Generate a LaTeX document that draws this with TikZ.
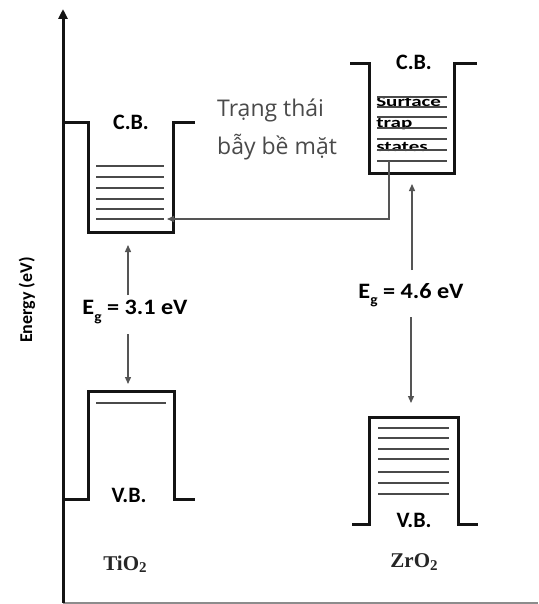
\documentclass[tikz,border=0pt]{standalone}
\usepackage{fontspec}
\setmainfont{Liberation Serif}
\newfontfamily\carlito{Carlito}
\newfontfamily\osans{Open Sans}
\usetikzlibrary{arrows.meta}
\definecolor{viet}{HTML}{4A4A4A}
\definecolor{lvlgray}{HTML}{4A4A4A}
\definecolor{conngray}{HTML}{555555}
\begin{document}
\begin{tikzpicture}[x=1pt,y=-1pt,
  band/.style={line width=3pt, black!92, line join=miter, line cap=butt},
  lvl/.style={line width=1.8pt, lvlgray},
  conn/.style={line width=1.3pt, conngray, -{Triangle[length=7pt,width=6pt]}},
  bandlbl/.style={font=\carlito\bfseries\fontsize{22}{24}\selectfont, inner sep=0pt},
  eglbl/.style={font=\carlito\bfseries\fontsize{22}{24}\selectfont, inner sep=0pt, xscale=1.1},
  matlbl/.style={font=\bfseries\fontsize{21}{24}\selectfont, text=black!85, inner sep=0pt},
  traplbl/.style={font=\carlito\bfseries\fontsize{14.5}{14.5}\selectfont, inner sep=0pt, xscale=1.45, anchor=base west},
  vietlbl/.style={font=\osans\fontsize{23}{26}\selectfont, text=viet, inner sep=0pt, anchor=base west},
  axislbl/.style={font=\carlito\bfseries\fontsize{18}{20}\selectfont, inner sep=0pt, rotate=90}
]
\useasboundingbox (0,0) rectangle (538,604);

% axes
\coordinate (axisorigin) at (63,603);
\coordinate (axistop) at (63,9);
\coordinate (axisright) at (538,603);
\draw[line width=2pt, black!45] (axisorigin) -- (axisright);
\draw[line width=3pt, black!92, -{Triangle[length=10pt,width=9pt]}] (axisorigin) -- (axistop);
\node[axislbl] (energy) at (27,300) {Energy (eV)};

% TiO2 conduction band
\draw[band] (64,123) -- (88,123) -- (88,232) -- (173,232) -- (173,123) -- (195,123);
\foreach \y in {166,177,188,199,209,219} \draw[lvl] (96,\y) -- (164,\y);
\node[bandlbl] (ticb) at (131,122) {C.B.};

% TiO2 valence band
\draw[band] (64,499) -- (88,499) -- (88,391) -- (174,391) -- (174,499) -- (195,499);
\draw[lvl] (96,403) -- (166,403);
\node[bandlbl] (tivb) at (129,495) {V.B.};
\node[matlbl] (tio) at (125,564) {TiO\raisebox{-0.12em}{\fontsize{15}{15}\selectfont 2}};

% ZrO2 conduction band
\draw[band] (350,64) -- (369,64) -- (369,173) -- (454,173) -- (454,64) -- (477,64);
\node[traplbl] (surf) at (376,106.5) {Surface};
\node[traplbl] (trap) at (376,128) {trap};
\node[traplbl] (states) at (376,151.5) {states};
\foreach \y in {97,107,117,128,139,150,161} \draw[lvl] (377,\y) -- (447,\y);
\node[bandlbl] (zrcb) at (414,62) {C.B.};

% ZrO2 valence band
\draw[band] (352,524) -- (369,524) -- (369,417) -- (458,417) -- (458,524) -- (478,524);
\foreach \y in {428,438,449,459,472,483,494} \draw[lvl] (378,\y) -- (449,\y);
\node[bandlbl] (zrvb) at (414,520) {V.B.};
\node[matlbl] (zro) at (414,562) {ZrO\raisebox{-0.12em}{\fontsize{15}{15}\selectfont 2}};

% gap labels
\node[eglbl] (egti) at (135,312) {E\raisebox{-0.3em}{\fontsize{14}{14}\selectfont g} = 3.1 eV};
\node[eglbl] (egzr) at (411,295) {E\raisebox{-0.3em}{\fontsize{14}{14}\selectfont g} = 4.6 eV};

% gap arrows
\coordinate (tiup0) at (128,295);
\coordinate (tiup1) at (128,245);
\coordinate (tidn0) at (128,334);
\coordinate (tidn1) at (128,384);
\draw[conn] (tiup0) -- (tiup1);
\draw[conn] (tidn0) -- (tidn1);
\coordinate (zrup0) at (412,270);
\coordinate (zrup1) at (412,184);
\coordinate (zrdn0) at (411,317);
\coordinate (zrdn1) at (411,403);
\draw[conn] (zrup0) -- (zrup1);
\draw[conn] (zrdn0) -- (zrdn1);

% trap transfer connector
\coordinate (trapstart) at (389,161);
\coordinate (trapend) at (167,219);
\draw[conn] (trapstart) |- (trapend);

% Vietnamese caption
\node[vietlbl] (viet1) at (217,117) {Trạng thái};
\node[vietlbl] (viet2) at (217,155) {bẫy bề mặt};
\end{tikzpicture}
\end{document}
